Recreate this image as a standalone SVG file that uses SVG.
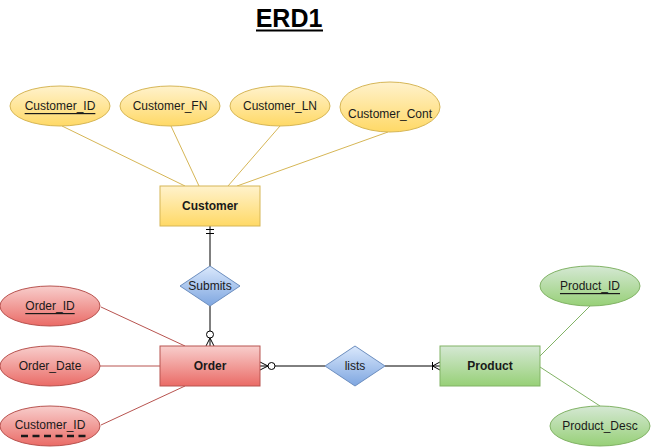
<svg xmlns="http://www.w3.org/2000/svg" width="651" height="447" viewBox="0 0 651 447">
<defs>
<linearGradient id="gy" x1="0" y1="0" x2="0" y2="1"><stop offset="0" stop-color="#fff2cc"/><stop offset="1" stop-color="#ffd966"/></linearGradient>
<linearGradient id="gr" x1="0" y1="0" x2="0" y2="1"><stop offset="0" stop-color="#f8cecc"/><stop offset="1" stop-color="#ea6b66"/></linearGradient>
<linearGradient id="gg" x1="0" y1="0" x2="0" y2="1"><stop offset="0" stop-color="#d5e8d4"/><stop offset="1" stop-color="#97d077"/></linearGradient>
<linearGradient id="gb" x1="0" y1="0" x2="0" y2="1"><stop offset="0" stop-color="#dae8fc"/><stop offset="1" stop-color="#7ea6e0"/></linearGradient>
</defs>
<style>
text{font-family:"Liberation Sans",Arial,sans-serif;font-size:12px;fill:#1a1a1a;text-anchor:middle;dominant-baseline:central}
.b{font-weight:bold}
.u{text-decoration:underline}
.y{fill:url(#gy);stroke:#d6b656}
.r{fill:url(#gr);stroke:#b85450}
.g{fill:url(#gg);stroke:#82b366}
.bl{fill:url(#gb);stroke:#6c8ebf}
.ly{stroke:#d6b656;fill:none}
.lr{stroke:#b85450;fill:none}
.lg{stroke:#82b366;fill:none}
.lk{stroke:#000;fill:none}
.ck{stroke:#000;fill:#fff}
</style>
<rect width="651" height="447" fill="#fff"/>
<g id="title">
<text x="289" y="18" class="b" style="font-size:25px;fill:#000">ERD1</text>
<line x1="256" y1="30.5" x2="323" y2="30.5" stroke="#000" stroke-width="2"/>
</g>
<g id="connectors">
<line class="ly" x1="62" y1="126" x2="185" y2="186"/>
<line class="ly" x1="171" y1="126" x2="199" y2="186"/>
<line class="ly" x1="280" y1="126" x2="228" y2="186"/>
<line class="ly" x1="388" y1="132" x2="237" y2="186"/>
<line class="lr" x1="101" y1="307" x2="185" y2="346"/>
<line class="lr" x1="100" y1="366" x2="160" y2="366"/>
<line class="lr" x1="101" y1="425" x2="185" y2="386"/>
<line class="lg" x1="590" y1="306" x2="540" y2="356"/>
<line class="lg" x1="540" y1="367" x2="600" y2="406"/>
<line class="lk" x1="210" y1="226" x2="210" y2="266"/>
<line class="lk" x1="206" y1="229.5" x2="214" y2="229.5"/>
<line class="lk" x1="206" y1="233.5" x2="214" y2="233.5"/>
<line class="lk" x1="210" y1="306" x2="210" y2="331"/>
<circle class="ck" cx="210" cy="334.5" r="3.5"/>
<line class="lk" x1="210" y1="338" x2="210" y2="346"/>
<path class="lk" d="M206 346 L210 338 L214 346"/>
<line class="lk" x1="260" y1="366" x2="268" y2="366"/>
<path class="lk" d="M260 362 L268 366 L260 370"/>
<circle class="ck" cx="271.5" cy="366" r="3.5"/>
<line class="lk" x1="275" y1="366" x2="325" y2="366"/>
<line class="lk" x1="385" y1="366" x2="440" y2="366"/>
<line class="lk" x1="432.5" y1="362" x2="432.5" y2="370"/>
<path class="lk" d="M440 362 L432.5 366 L440 370"/>
</g>
<g id="Customer_ID"><ellipse class="y" cx="60" cy="106" rx="50" ry="20"/><text x="60" y="106" class="u">Customer_ID</text></g>
<g id="Customer_FN"><ellipse class="y" cx="170" cy="106" rx="50" ry="20"/><text x="170" y="106">Customer_FN</text></g>
<g id="Customer_LN"><ellipse class="y" cx="280" cy="106" rx="50" ry="20"/><text x="280" y="106">Customer_LN</text></g>
<g id="Customer_Cont"><ellipse class="y" cx="390" cy="107" rx="50" ry="25"/><text x="390" y="114">Customer_Cont</text></g>
<g id="Customer"><rect class="y" x="160" y="186" width="100" height="40"/><text x="210" y="206" class="b">Customer</text></g>
<g id="Submits"><path class="bl" d="M210 266 L240 286 L210 306 L180 286 Z"/><text x="210" y="286">Submits</text></g>
<g id="Order"><rect class="r" x="160" y="346" width="100" height="40"/><text x="210" y="366" class="b">Order</text></g>
<g id="Order_ID"><ellipse class="r" cx="50" cy="306" rx="50" ry="20"/><text x="50" y="306" class="u">Order_ID</text></g>
<g id="Order_Date"><ellipse class="r" cx="50" cy="366" rx="50" ry="20"/><text x="50" y="366">Order_Date</text></g>
<g id="Order_Customer_ID"><ellipse class="r" cx="50" cy="426" rx="50" ry="20"/><text x="50" y="425">Customer_ID</text><line x1="21" y1="436" x2="87" y2="436" stroke="#1a1a1a" stroke-width="2.5" stroke-dasharray="7 4.5"/></g>
<g id="lists"><path class="bl" d="M355 346 L385 366 L355 386 L325 366 Z"/><text x="355" y="366">lists</text></g>
<g id="Product"><rect class="g" x="440" y="346" width="100" height="40"/><text x="490" y="366" class="b">Product</text></g>
<g id="Product_ID"><ellipse class="g" cx="590" cy="286" rx="50" ry="20"/><text x="590" y="286" class="u">Product_ID</text></g>
<g id="Product_Desc"><ellipse class="g" cx="600" cy="426" rx="50" ry="20"/><text x="600" y="426">Product_Desc</text></g>
</svg>
